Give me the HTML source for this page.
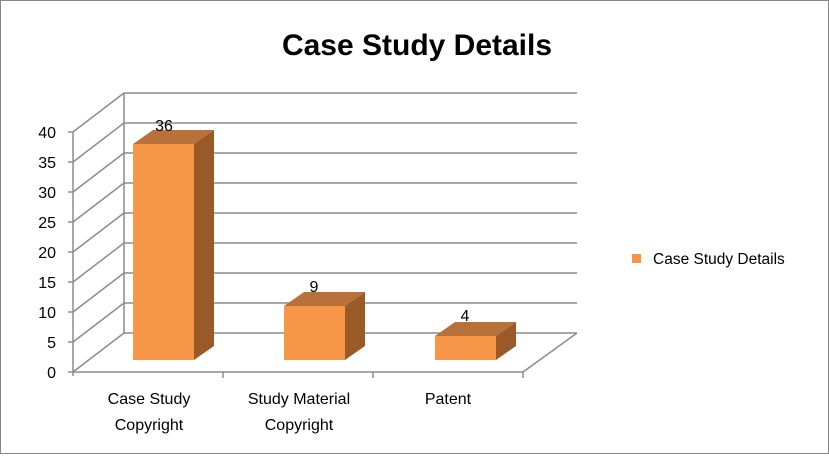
<!DOCTYPE html>
<html><head><style>body{margin:0;background:#fff}</style></head><body>
<svg width="829" height="454" xmlns="http://www.w3.org/2000/svg" font-family="Liberation Sans, sans-serif">
<rect x="0.5" y="0.5" width="828" height="453" fill="#fff" stroke="#868686"/>
<text x="417" y="55" font-size="30" font-weight="bold" text-anchor="middle">Case Study Details</text>
<g stroke="#8c8c8c" stroke-width="1.5" fill="none">
<line x1="124" y1="93" x2="577" y2="93"/><line x1="124" y1="123" x2="577" y2="123"/><line x1="124" y1="153" x2="577" y2="153"/><line x1="124" y1="183" x2="577" y2="183"/><line x1="124" y1="213" x2="577" y2="213"/><line x1="124" y1="243" x2="577" y2="243"/><line x1="124" y1="273" x2="577" y2="273"/><line x1="124" y1="303" x2="577" y2="303"/><line x1="124" y1="333" x2="577" y2="333"/>
<line x1="124" y1="93" x2="124" y2="333"/>
<line x1="73" y1="132" x2="124" y2="93"/><line x1="73" y1="162" x2="124" y2="123"/><line x1="73" y1="192" x2="124" y2="153"/><line x1="73" y1="222" x2="124" y2="183"/><line x1="73" y1="252" x2="124" y2="213"/><line x1="73" y1="282" x2="124" y2="243"/><line x1="73" y1="312" x2="124" y2="273"/><line x1="73" y1="342" x2="124" y2="303"/><line x1="73" y1="372" x2="124" y2="333"/>
<line x1="73" y1="132" x2="73" y2="376"/>
<line x1="68" y1="132" x2="73" y2="132"/><line x1="68" y1="162" x2="73" y2="162"/><line x1="68" y1="192" x2="73" y2="192"/><line x1="68" y1="222" x2="73" y2="222"/><line x1="68" y1="252" x2="73" y2="252"/><line x1="68" y1="282" x2="73" y2="282"/><line x1="68" y1="312" x2="73" y2="312"/><line x1="68" y1="342" x2="73" y2="342"/><line x1="68" y1="372" x2="73" y2="372"/>
<line x1="73" y1="372" x2="523" y2="372"/><line x1="523" y1="372" x2="577" y2="333"/>
<line x1="223" y1="372" x2="223" y2="378"/><line x1="373" y1="372" x2="373" y2="378"/><line x1="523" y1="372" x2="523" y2="378"/>
</g>
<g font-size="16" text-anchor="end">
<text x="56" y="138">40</text><text x="56" y="168">35</text><text x="56" y="198">30</text><text x="56" y="228">25</text><text x="56" y="258">20</text><text x="56" y="288">15</text><text x="56" y="318">10</text><text x="56" y="348">5</text><text x="56" y="378">0</text>
</g>
<g>
<polygon points="133,144 194,144 214,130 153,130" fill="#B8713A"/><polygon points="194,144 214,130 214,346 194,360" fill="#9A5A28"/><rect x="133" y="144" width="61" height="216" fill="#F79646"/>
<polygon points="284,306 345,306 365,292 304,292" fill="#B8713A"/><polygon points="345,306 365,292 365,346 345,360" fill="#9A5A28"/><rect x="284" y="306" width="61" height="54" fill="#F79646"/>
<polygon points="435,336 496,336 516,322 455,322" fill="#B8713A"/><polygon points="496,336 516,322 516,346 496,360" fill="#9A5A28"/><rect x="435" y="336" width="61" height="24" fill="#F79646"/>
</g>
<g font-size="16" text-anchor="middle">
<text x="164" y="131">36</text><text x="314" y="292">9</text><text x="465" y="321">4</text>
<text x="149" y="404">Case Study</text><text x="149" y="430">Copyright</text>
<text x="299" y="404">Study Material</text><text x="299" y="430">Copyright</text>
<text x="448" y="404">Patent</text>
</g>
<rect x="632" y="254" width="9" height="9" fill="#F79646"/>
<text x="653" y="264" font-size="15.5">Case Study Details</text>
</svg>
</body></html>
